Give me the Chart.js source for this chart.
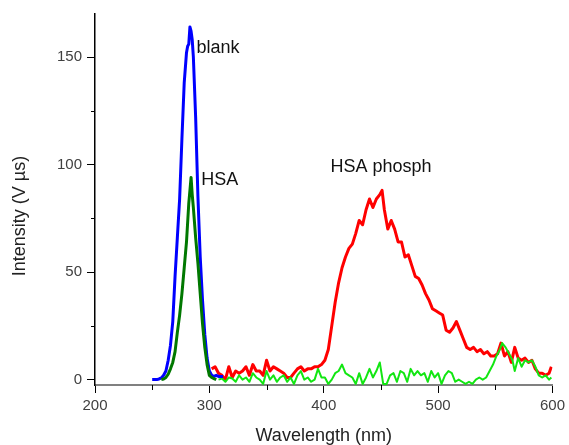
<!DOCTYPE html>
<html>
<head>
<meta charset="utf-8">
<script src="https://cdn.jsdelivr.net/npm/chart.js@4.4.0/dist/chart.umd.min.js"></script>
<style>
  html, body { margin: 0; padding: 0; background: #fff; }
  #wrap { width: 569px; height: 445px; }
</style>
</head>
<body>
<div id="wrap"><canvas id="spectra" width="569" height="445"></canvas></div>
<script>
// blank (blue)
let blankX = [250, 252, 254, 256, 258, 260, 262, 264, 266, 268, 270, 272, 274, 276, 278, 280, 281, 282, 283, 284, 285, 286, 288, 290, 292, 294, 296, 298, 300, 302, 304, 306, 308, 310, 312];
let blankY = [0, 0, 0, 0.3, 0.8, 2, 4, 9, 16, 27, 48, 66, 84, 112, 138, 152, 155, 156, 164, 162, 158, 150, 122, 85, 57, 37, 21, 10, 4, 2, 1.5, 2, 1.5, 1.5, 1.5];

// HSA (dark green)
let hsaX = [258, 260, 262, 264, 266, 268, 270, 272, 274, 276, 278, 280, 282, 283, 284, 285, 286, 288, 290, 292, 294, 296, 298, 300, 302, 304, 306];
let hsaY = [0, 0.3, 1, 2.5, 5, 8, 13, 22, 30, 40, 52, 64, 82, 88, 94, 86, 80, 66, 54, 40, 26, 15, 7, 2, 1, 0.5, 0];

// HSA phosph (red)
let phosX = [302, 305, 308, 311, 314, 317, 320, 323, 326, 329, 332, 335, 338, 341, 344, 347, 350, 353, 356, 359,
  362, 365, 368, 371, 374, 377, 380, 383, 386, 389, 392, 395, 398, 401, 404, 407, 410, 413, 416, 419,
  422, 425, 428, 431, 434, 437, 440, 443, 446, 449, 451, 453, 456, 459, 462, 465, 468, 471, 474, 477,
  480, 483, 486, 489, 492, 495, 498, 501, 504, 507, 510, 513, 516, 519, 522, 525, 528, 531, 534, 537,
  540, 543, 546, 549, 552, 555, 558, 561, 564, 567, 570, 573, 576, 579, 582, 585, 588, 591, 594, 597, 599];
let phosY = [5, 6, 3, 2, 0, 6, 1, 4, 3, 4, 6, 2, 7, 4, 4, 2, 9, 4, 6, 5,
  4, 3, 1, 1, 3, 5, 6, 4, 5, 5, 6, 6, 7, 9, 14, 25, 36, 45, 52, 57,
  61, 63, 68, 74, 72, 79, 84, 80, 84, 86, 88, 79, 70, 74, 70, 64, 64, 57, 58, 53,
  48, 47, 44, 40, 37, 33, 32, 31, 30, 23, 22, 24, 27, 23, 19, 15, 14, 15, 13, 14,
  12, 13, 11, 11, 12, 17, 11, 13, 8, 15, 10, 9, 10, 8, 9, 5, 3, 3, 2, 3, 6];

// background (bright green)
let bgX = [308, 311, 314, 317, 320, 323, 326, 329, 332, 335, 338, 341, 344, 347, 350, 353, 356, 359, 362, 365,
  368, 371, 374, 377, 380, 383, 386, 389, 392, 395, 398, 401, 404, 407, 410, 413, 416, 419, 422, 425,
  428, 431, 434, 437, 440, 443, 446, 449, 452, 455, 458, 461, 464, 467, 470, 473, 476, 479, 482, 485,
  488, 491, 494, 497, 500, 503, 506, 509, 512, 515, 518, 521, 524, 527, 530, 533, 536, 539, 542, 545,
  548, 551, 554, 556, 559, 562, 565, 567, 570, 573, 576, 579, 582, 585, 588, 591, 594, 597, 599];
let bgY = [0, 0.5, -1, 1, 0.5, -1, 2, 0, 1, -1, 3, 1, 0, -2, 4, 0, 2, -1, 1, 2,
  -1, 1, -2, 2, 4, 0, 1, -1, 0, 5, 1, 1, -2, 0, 3, 4, 7, 3, 2, 1,
  -2, 3, -2, 1, 5, 1, 4, 8, -2, -2, 2, 3, -1, 4, 3, -1, 5, 2, 4, 2,
  3, -1, 4, 1, 3, -2, 2, 4, 3, -1, 0, -1, -2, -1, -2, 0, 1, 0, 1, 4,
  7, 11, 14, 17, 15, 12, 9, 4, 10, 6, 9, 8, 9, 6, 2, 1, 2, 0, 1];

// axis ticks
let xMajor = [200, 300, 400, 500, 600];
let xMinor = [250, 350, 450, 550];
let yMajor = [0, 50, 100, 150];
let yMinor = [25, 75, 125];

function pts(xs, ys) {
    return xs.map(function (x, i) { return { x: x, y: ys[i] }; });
}

const FONT = "'Liberation Sans', Arial, sans-serif";

// minor ticks, y title and curve labels
const extras = {
    id: 'extras',
    afterDraw(chart) {
        const ctx = chart.ctx;
        const xs = chart.scales.x, ys = chart.scales.y;
        const area = chart.chartArea;
        ctx.save();
        ctx.strokeStyle = '#000';
        ctx.lineWidth = 1;
        xMinor.forEach(function (v) {
            const px = Math.round(xs.getPixelForValue(v)) + 0.5;
            ctx.beginPath();
            ctx.moveTo(px, area.bottom);
            ctx.lineTo(px, area.bottom + 5);
            ctx.stroke();
        });
        yMinor.forEach(function (v) {
            const py = Math.round(ys.getPixelForValue(v)) + 0.5;
            ctx.beginPath();
            ctx.moveTo(area.left, py);
            ctx.lineTo(area.left - 4, py);
            ctx.stroke();
        });

        ctx.fillStyle = '#222';
        ctx.font = '18px ' + FONT;
        ctx.textAlign = 'center';
        ctx.textBaseline = 'middle';
        ctx.translate(20, 216);
        ctx.rotate(-Math.PI / 2);
        ctx.fillText('Intensity (V \u00b5s)', 0, 0);
        ctx.restore();

        ctx.save();
        ctx.fillStyle = '#111';
        ctx.font = '18px ' + FONT;
        ctx.textAlign = 'left';
        ctx.textBaseline = 'alphabetic';
        ctx.fillText('blank', xs.getPixelForValue(288.7), ys.getPixelForValue(151.9));
        ctx.fillText('HSA', xs.getPixelForValue(292.8), ys.getPixelForValue(90.7));
        ctx.fillText('HSA phosph', xs.getPixelForValue(405.8), ys.getPixelForValue(96.4));
        ctx.restore();
    }
};

new Chart(document.getElementById('spectra'), {
    type: 'line',
    data: {
        datasets: [{
            label: 'HSA',
            data: pts(hsaX, hsaY),
            borderColor: '#007800',
            borderWidth: 3
        }, {
            label: 'blank',
            data: pts(blankX, blankY),
            borderColor: '#0000ff',
            borderWidth: 3
        }, {
            label: 'background',
            data: pts(bgX, bgY),
            borderColor: '#12e612',
            borderWidth: 2
        }, {
            label: 'HSA phosph',
            data: pts(phosX, phosY),
            borderColor: '#ff0000',
            borderWidth: 3
        }]
    },
    options: {
        responsive: false,
        animation: false,
        parsing: true,
        elements: {
            point: { radius: 0 },
            line: { tension: 0, fill: false, borderJoinStyle: 'round' }
        },
        layout: { padding: { top: 13, right: 14, left: 0, bottom: 0 } },
        plugins: {
            legend: { display: false },
            tooltip: { enabled: false }
        },
        scales: {
            x: {
                type: 'linear',
                min: 200,
                max: 600,
                afterBuildTicks: function (scale) {
                    scale.ticks = xMajor.map(function (v) { return { value: v }; });
                },
                afterFit: function (scale) { scale.height = 60; },
                ticks: {
                    font: { family: FONT, size: 15 },
                    color: '#404040',
                    padding: 4,
                    maxRotation: 0
                },
                grid: { drawOnChartArea: false, drawTicks: true, tickLength: 8, tickColor: '#000', tickWidth: 1 },
                border: { display: true, color: '#808080', width: 2 },
                title: {
                    display: true,
                    text: 'Wavelength (nm)',
                    color: '#222',
                    font: { family: FONT, size: 18, lineHeight: 1 },
                    padding: { top: 0, bottom: 0 }
                }
            },
            y: {
                type: 'linear',
                min: -2.5,
                max: 170,
                afterBuildTicks: function (scale) {
                    scale.ticks = yMajor.map(function (v) { return { value: v }; });
                },
                afterFit: function (scale) { scale.width = 95; },
                ticks: {
                    font: { family: FONT, size: 15 },
                    color: '#404040',
                    padding: 5
                },
                grid: { drawOnChartArea: false, drawTicks: true, tickLength: 8, tickColor: '#000', tickWidth: 1 },
                border: { display: true, color: '#000', width: 1.5 }
            }
        }
    },
    plugins: [extras]
});
</script>
</body>
</html>
